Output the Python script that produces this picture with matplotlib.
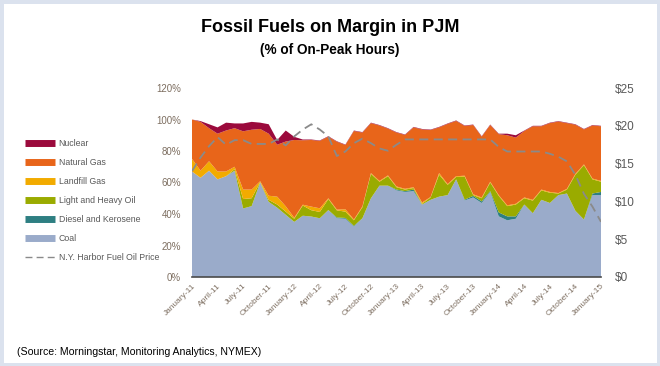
import matplotlib
matplotlib.use("Agg")
import matplotlib.pyplot as plt
from matplotlib.lines import Line2D
from matplotlib.patches import Rectangle
import numpy as np

# monthly values, Jan-2011 .. Jan-2015 (% of on-peak hours)
months = np.arange(49)
coal = [67, 63, 67.5, 62, 64, 67.5, 43.5, 45, 60, 47.7, 44, 39.5, 35,
        38.9, 38.4, 37.3, 42.5, 37.3, 37, 32, 37.3, 50, 58, 58, 55,
        54, 54.5, 46, 49, 51, 52, 62, 48.6, 50.5, 47, 54,
        38.5, 36, 37, 46, 40.5, 49, 47, 52, 53, 42, 36.5, 52, 52]
diesel = [0, 0, 0, 0, 0, 0, 0, 0, 0, 0, 0, 0, 0,
          0, 0, 0, 0, 0.5, 0.5, 0.5, 0, 0, 0, 0, 0.5,
          0.5, 1, 0, 0, 0, 0, 0, 0.5, 1, 1, 0.5,
          2.5, 2.5, 1.5, 0, 0, 0, 0, 0, 0, 0, 0, 1, 2]
oil = [0, 0, 0, 0, 0, 1, 6, 5, 0.3, 1.3, 2, 2, 2,
       6.5, 4, 4, 7, 4.5, 4, 3.5, 7, 15.5, 2.5, 6, 1.5,
       1, 1, 0.5, 1.5, 14, 6.5, 1.5, 14.7, 0.5, 2, 5.5,
       10.5, 6.5, 7.5, 4, 8, 6, 6.5, 1, 2.5, 23, 34.5, 9, 6.5]
landfill = [8, 4.5, 6, 5, 3, 1.5, 6, 5.5, 0.5, 2.6, 5, 3.4, 0.6,
            0.5, 2.3, 2.3, 0.5, 0.5, 1.5, 0.5, 0.5, 0.5, 0.5, 0.5, 0.5,
            0.5, 0.5, 0.8, 0.3, 1, 0.5, 0.5, 0.5, 0.5, 0.5, 0.5,
            0.5, 0.5, 0.5, 0.5, 0.5, 0.5, 0.5, 0.3, 0.5, 0.5, 0.5, 0.5, 0.5]
natural_gas = [25, 31, 21, 24, 26, 24.5, 37, 38, 33.2, 39.4, 33, 41.1, 49.4,
               40.9, 42.3, 42.8, 39.1, 43.1, 40.8, 56.2, 46.9, 31.7, 35.2, 29.7, 34.2,
               34.2, 38, 46.4, 42.5, 29, 38.2, 35.1, 31.6, 44, 38.6, 36,
               38.7, 44.5, 42, 42.2, 46.7, 40.2, 43.7, 45.4, 41.7, 31.2, 22.2, 33.7, 34.7]
nuclear = [0, 0.5, 2.5, 4, 5, 3, 5, 5, 4, 6, 3, 7, 2,
           0.5, 0.3, 0.3, 0.3, 0.3, 0.3, 0.3, 0.3, 0.3, 0.3, 0.3, 0.3,
           0.3, 0.3, 0.3, 0.3, 0.3, 0.3, 0.3, 0.3, 0.3, 0.3, 0.3,
           0.3, 1, 1.5, 0.3, 0.3, 0.3, 0.3, 0.3, 0.3, 0.3, 0.3, 0.3, 0.3]
# N.Y. Harbor fuel oil price ($)
oil_price = [14.0, 15.8, 17.3, 18.5, 17.5, 18.1, 18.1, 17.6, 17.6, 17.6, 18.2, 17.4, 18.6,
             19.5, 20.2, 19.5, 18.6, 16.0, 16.6, 17.7, 18.3, 17.7, 17.0, 16.7, 17.5,
             18.2, 18.2, 18.2, 18.2, 18.2, 18.2, 18.2, 18.2, 18.2, 18.2, 18.2,
             17.2, 16.6, 16.6, 16.6, 16.6, 16.6, 16.3, 15.9, 15.3, 13.5, 11.0, 9.3, 7.3]

tick_labels = ["January-11", "April-11", "July-11", "October-11",
               "January-12", "April-12", "July-12", "October-12",
               "January-13", "April-13", "July-13", "October-13",
               "January-14", "April-14", "July-14", "October-14", "January-15"]

series_names = ["Coal", "Diesel and Kerosene", "Light and Heavy Oil",
                "Landfill Gas", "Natural Gas", "Nuclear"]
colors = ["#9aabca", "#2e7f82", "#9aab00", "#f2ab00", "#e8651a", "#9b0a3c"]

label_col = "#7d6e60"
font = "Liberation Sans"

fig = plt.figure(figsize=(6.6, 3.66), dpi=100)
fig.patch.set_facecolor("white")
fig.patches.append(Rectangle((0, 0), 1, 1, transform=fig.transFigure,
                             fill=False, edgecolor="#dbe2ee", linewidth=5))

ax = fig.add_axes([192 / 660, 1 - 277 / 366, (601 - 192) / 660, (277 - 88) / 366])
ax.stackplot(months, coal, diesel, oil, landfill, natural_gas, nuclear,
             colors=colors, linewidth=0)
ax.set_xlim(0, 48)
ax.set_ylim(0, 120)
ax.set_yticks(np.arange(0, 121, 20))
ax.set_yticklabels([f"{v}%" for v in range(0, 121, 20)], family=font,
                   fontsize=7, color=label_col)
ax.set_xticks(np.arange(0, 49, 3))
ax.set_xticklabels(tick_labels, rotation=45, ha="right", rotation_mode="anchor",
                   family=font, fontsize=6, color=label_col)
ax.tick_params(axis="y", length=0, pad=8)
ax.tick_params(axis="x", length=0, pad=4)
for s in ["top", "left", "right"]:
    ax.spines[s].set_visible(False)
ax.spines["bottom"].set_color("#4a4a4a")
ax.spines["bottom"].set_linewidth(1.2)

ax2 = ax.twinx()
ax2.plot(months, oil_price, color="#8a8a8a", linestyle=(0, (5, 3)), linewidth=1.3)
ax2.set_ylim(0, 25)
ax2.set_yticks(np.arange(0, 26, 5))
ax2.set_yticklabels([f"${v}" for v in range(0, 26, 5)], fontsize=8.5,
                    color="#595959", family=font)
ax2.tick_params(axis="y", length=0, pad=10)
for s in ["top", "left", "right", "bottom"]:
    ax2.spines[s].set_visible(False)

handles = [Line2D([], [], color=c, linewidth=5, solid_capstyle="butt") for c in colors[::-1]]
handles.append(Line2D([], [], color="#8a8a8a", linestyle=(0, (5, 3)), linewidth=1))
labels = series_names[::-1] + ["N.Y. Harbor Fuel Oil Price"]
fig.legend(handles, labels, loc="upper left", bbox_to_anchor=(25 / 660, 1 - 139 / 366),
           frameon=False, handlelength=3.4, handletextpad=0.45,
           labelspacing=1.15, borderaxespad=0, borderpad=0,
           prop={"family": font, "size": 6.3}, labelcolor="#595959")

fig.text(0.5, 1 - 27 / 366, "Fossil Fuels on Margin in PJM", ha="center", va="center",
         fontsize=13, fontweight="bold", family=font)
fig.text(0.5, 1 - 50 / 366, "(% of On-Peak Hours)", ha="center", va="center",
         fontsize=9.8, fontweight="bold", family=font)
fig.text(17 / 660, 1 - 352 / 366, "(Source: Morningstar, Monitoring Analytics, NYMEX)",
         ha="left", va="center", fontsize=7.6, family=font)

fig.savefig("out.png", dpi=100)
